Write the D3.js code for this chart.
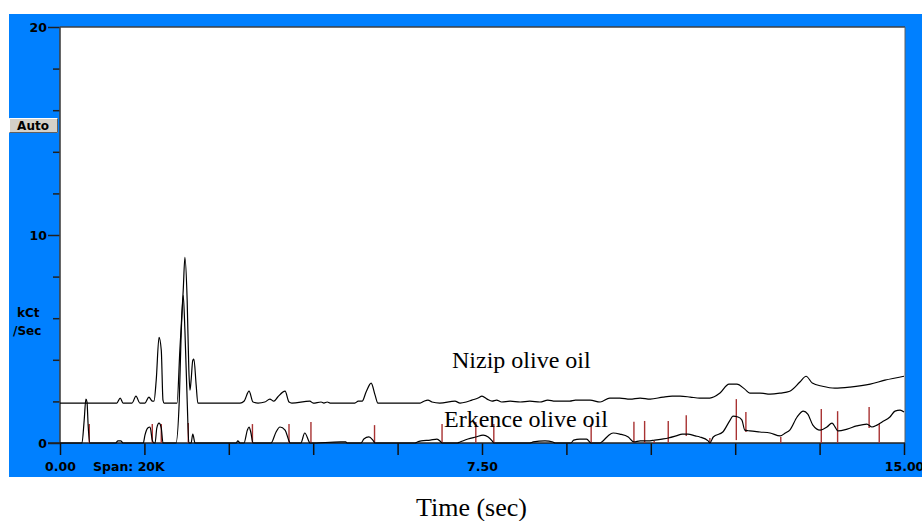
<!DOCTYPE html>
<html>
<head>
<meta charset="utf-8">
<script src="https://cdn.jsdelivr.net/npm/d3@7"></script>
<style>
  html, body { margin: 0; padding: 0; background: #ffffff; }
  svg { display: block; }
</style>
</head>
<body>
<svg id="chart" width="922" height="521"></svg>
<script>
// ---------------- DATA (time in sec, signal in kCt/Sec) ----------------
const nizipTime = [0,0.98,1.01,1.07,1.12,1.28,1.35,1.42,1.51,1.58,1.64,1.67,1.71,1.76,1.80,1.83,1.85,
  2.08,2.13,2.19,2.22,2.26,2.29,2.31,2.33,2.36,2.38,2.42,2.45,
  3.20,3.27,3.36,3.43,3.52,3.64,3.73,3.80,3.87,4.00,4.07,4.12,4.44,4.50,4.64,4.69,4.75,4.80,
  5.24,5.30,5.37,5.44,5.53,5.60,5.65,6.40,6.47,6.54,6.61,6.75,7.02,7.11,
  7.22,7.32,7.43,7.50,7.59,7.68,7.76,7.85,8.00,8.18,8.35,8.53,8.67,8.80,8.89,9.06,9.16,9.24,9.42,9.60,
  9.77,9.95,10.13,10.31,10.49,10.72,10.88,11.02,11.20,11.37,11.55,11.73,11.89,12.03,12.17,12.26,
  12.44,12.62,12.80,12.97,13.15,13.26,13.37,13.55,13.77,14.04,14.40,14.66,15.00];
const nizipValue = [1.92,1.92,1.92,2.16,1.92,1.92,2.25,1.92,1.92,2.21,2.01,2.01,3.02,5.08,4.46,2.06,1.92,
  1.92,4.46,7.34,8.92,6.86,3.50,2.54,3.02,3.98,4.03,2.78,1.92,
  1.92,2.01,2.49,1.97,1.92,1.97,2.11,2.01,2.21,2.49,1.97,1.92,2.01,1.92,1.97,1.92,1.97,1.92,
  1.92,2.01,2.01,2.45,2.88,2.30,1.92,1.92,2.01,2.06,1.97,1.92,2.01,1.92,
  1.97,2.06,2.16,2.25,2.11,2.01,2.06,1.97,2.01,1.97,2.01,1.97,2.06,2.01,2.01,2.01,2.06,2.06,2.06,1.97,
  2.16,2.16,2.11,2.16,2.11,2.21,2.25,2.25,2.21,2.16,2.16,2.40,2.83,2.83,2.59,2.40,
  2.40,2.35,2.40,2.49,2.93,3.21,2.88,2.73,2.64,2.69,2.83,3.02,3.21];

const erkenceTime = [0,0.39,0.43,0.46,0.48,0.50,0.53,0.99,1.03,1.08,1.12,1.48,1.51,1.56,1.60,1.64,1.67,1.69,
  1.72,1.76,1.80,1.83,2.06,2.12,2.15,2.19,2.22,2.26,2.29,2.33,2.36,2.40,3.13,3.16,3.20,3.27,3.33,3.36,3.39,3.43,
  3.75,3.84,3.91,4.00,4.07,4.09,4.28,4.35,4.42,4.44,4.99,5.08,5.10,5.35,5.40,5.49,5.56,5.60,
  6.31,6.35,6.42,6.58,6.70,6.77,6.79,7.06,7.11,7.25,7.39,7.52,7.61,7.68,7.71,8.35,8.41,8.62,8.76,8.80,
  9.08,9.13,9.24,9.36,9.44,9.60,9.65,9.74,9.83,9.95,10.10,10.20,10.31,10.45,10.57,10.70,10.81,10.95,
  11.06,11.16,11.29,11.37,11.52,11.55,11.61,11.78,11.91,11.96,12.05,12.12,12.17,12.26,12.44,12.62,
  12.80,12.89,12.97,13.10,13.21,13.29,13.38,13.51,13.63,13.72,13.83,13.99,14.16,14.34,14.43,14.52,
  14.61,14.75,14.84,14.93,15.00];
const erkenceValue = [0,0,1.10,2.11,1.97,0.86,0,0,0.10,0.10,0,0,0.38,0.72,0.77,0.14,0,0,
  0.72,0.96,0.72,0,0,2.06,4.94,7.10,5.42,2.06,0,0,0.43,0,0,0.10,0,0,0.62,0.77,0.53,0,
  0,0.53,0.77,0.62,0.10,0,0,0.48,0.10,0,0.05,0.05,0,0,0.19,0.29,0.14,0,
  0,0.05,0.10,0.14,0.19,0.05,0,0,0.05,0.19,0.29,0.38,0.29,0.10,0,0,0.05,0.10,0.05,0,
  0,0.14,0.19,0.19,0,0,0.10,0.34,0.48,0.43,0.29,0.05,0.10,0.10,0.14,0.19,0.24,0.34,
  0.43,0.43,0.34,0.29,0.10,0,0.29,0.53,1.10,1.29,1.25,1.10,0.62,0.58,0.53,0.48,
  0.34,0.48,0.62,1.25,1.53,1.39,0.86,0.62,0.77,0.96,0.58,0.67,0.82,0.91,0.77,0.86,
  1.01,1.25,1.53,1.58,1.49];

// peak markers: time, top, bottom
const markerTime   = [0.52,1.64,1.80,2.28,3.42,4.07,4.46,5.59,6.79,7.39,7.71,9.44,10.20,10.39,10.56,10.81,11.13,11.55,12.02,12.19,12.81,13.53,13.82,14.38,14.56];
const markerTop    = [0.91,0.91,0.91,0.96,0.91,0.91,1.01,0.86,0.91,1.01,0.91,0.91,1.02,1.06,0.10,1.06,1.34,0.24,2.11,1.49,0.29,1.63,1.53,1.73,0.91];
const markerBottom = [0,0,0,0,0,0,0,0,0,0,0,0,0,0,0,0,0.34,0,0.14,0.53,0,0,0,0.72,0];

const yMajorTicks = [0, 10, 20];
const yMinorTicks = [2, 4, 6, 8, 12, 14, 16, 18];
const xTicks = [0, 1.5, 3, 4.5, 6, 7.5, 9, 10.5, 12, 13.5, 15];
const xTickLabels = {0: "0.00", 7.5: "7.50", 15: "15.00"};
const seriesLabels = ["Nizip olive oil", "Erkence olive oil"];

// ---------------- DRAW ----------------
const svg = d3.select("#chart");
const W = 922, H = 521;
const plot = {left: 60, right: 904, top: 27, bottom: 443};

const x = d3.scaleLinear().domain([0, 15]).range([plot.left, plot.right]);
const y = d3.scaleLinear().domain([0, 20]).range([plot.bottom, plot.top]);

svg.append("rect").attr("width", W).attr("height", H).attr("fill", "#ffffff");
// blue instrument panel
svg.append("rect").attr("x", 9).attr("y", 14).attr("width", W - 9).attr("height", 463).attr("fill", "#0080ff");
// white plot area
svg.append("rect").attr("x", plot.left).attr("y", plot.top)
  .attr("width", 905 - plot.left).attr("height", plot.bottom - plot.top).attr("fill", "#ffffff");

const sansBold = "'DejaVu Sans', Verdana, sans-serif";

// Y axis: major
const yAxisMajor = d3.axisLeft(y).tickValues(yMajorTicks).tickSize(12).tickPadding(1)
  .tickFormat(d3.format("d"));
const gyM = svg.append("g").attr("transform", `translate(${plot.left},0)`).call(yAxisMajor);
gyM.select(".domain").remove();
gyM.selectAll("line").attr("stroke", "#202020").attr("stroke-width", 1.5);
gyM.selectAll("text").attr("font-family", sansBold).attr("font-weight", "bold")
  .attr("font-size", 12.5).attr("fill", "#000").attr("dy", "0.34em");

const yAxisMinor = d3.axisLeft(y).tickValues(yMinorTicks).tickSize(7).tickFormat("");
const gym = svg.append("g").attr("transform", `translate(${plot.left},0)`).call(yAxisMinor);
gym.select(".domain").remove();
gym.selectAll("line").attr("stroke", "#202020").attr("stroke-width", 1.5);

// X axis
const xAxis = d3.axisBottom(x).tickValues(xTicks).tickSize(12).tickPadding(7)
  .tickFormat(d => xTickLabels[d] || "");
const gx = svg.append("g").attr("transform", `translate(0,${plot.bottom})`).call(xAxis);
gx.select(".domain").remove();
gx.selectAll("line").attr("stroke", "#101010").attr("stroke-width", 1.5);
gx.selectAll("text").attr("font-family", sansBold).attr("font-weight", "bold")
  .attr("font-size", 12.5).attr("fill", "#000");

// frame lines
svg.append("line").attr("x1", plot.left).attr("x2", plot.left).attr("y1", plot.top).attr("y2", plot.bottom)
  .attr("stroke", "#404040").attr("stroke-width", 1.6);
svg.append("line").attr("x1", plot.left).attr("x2", 905).attr("y1", plot.top).attr("y2", plot.top)
  .attr("stroke", "#404040").attr("stroke-width", 1.4);
svg.append("line").attr("x1", 905).attr("x2", 905).attr("y1", plot.top).attr("y2", plot.bottom)
  .attr("stroke", "#606060").attr("stroke-width", 1);
svg.append("line").attr("x1", 48).attr("x2", 905).attr("y1", plot.bottom).attr("y2", plot.bottom)
  .attr("stroke", "#202020").attr("stroke-width", 1.4);

// traces
const line = d3.line().x(d => x(d[0])).y(d => y(d[1])).curve(d3.curveMonotoneX);
const nizip = nizipTime.map((t, i) => [t, nizipValue[i]]);
const erkence = erkenceTime.map((t, i) => [t, erkenceValue[i]]);

// peak markers (behind traces)
svg.append("g").selectAll("line").data(markerTime).join("line")
  .attr("x1", d => x(d)).attr("x2", d => x(d))
  .attr("y1", (d, i) => y(markerTop[i])).attr("y2", (d, i) => y(markerBottom[i]))
  .attr("stroke", "#a83232").attr("stroke-width", 1.4);

svg.append("path").datum(erkence).attr("d", line)
  .attr("fill", "none").attr("stroke", "#000").attr("stroke-width", 1.2);
svg.append("path").datum(nizip).attr("d", line)
  .attr("fill", "none").attr("stroke", "#000").attr("stroke-width", 1.2);

// series labels
const serif = "'Liberation Serif', 'Times New Roman', serif";
svg.append("text").attr("x", 452).attr("y", 368).attr("font-family", serif).attr("font-size", 24)
  .attr("fill", "#000").text(seriesLabels[0]);
svg.append("text").attr("x", 444).attr("y", 427).attr("font-family", serif).attr("font-size", 24)
  .attr("fill", "#000").text(seriesLabels[1]);

// axis titles
svg.append("text").attr("x", 17).attr("y", 317).attr("font-family", sansBold).attr("font-weight", "bold")
  .attr("font-size", 12).attr("fill", "#000").text("kCt");
svg.append("text").attr("x", 13).attr("y", 335).attr("font-family", sansBold).attr("font-weight", "bold")
  .attr("font-size", 12).attr("fill", "#000").text("/Sec");
svg.append("text").attr("x", 93).attr("y", 471).attr("font-family", sansBold).attr("font-weight", "bold")
  .attr("font-size", 12.5).attr("fill", "#000").text("Span: 20K");
svg.append("text").attr("x", 471.5).attr("y", 516).attr("text-anchor", "middle")
  .attr("font-family", serif).attr("font-size", 26).attr("fill", "#000").text("Time (sec)");

// Auto button
const btn = svg.append("g");
btn.append("rect").attr("x", 9).attr("y", 118).attr("width", 49).attr("height", 15).attr("fill", "#d4d0c8");
btn.append("path").attr("d", "M9.5,132.5 L9.5,118.5 L57.5,118.5").attr("fill", "none").attr("stroke", "#ffffff");
btn.append("path").attr("d", "M9.5,132.5 L57.5,132.5 L57.5,118.5").attr("fill", "none").attr("stroke", "#606060");
btn.append("text").attr("x", 33).attr("y", 130).attr("text-anchor", "middle")
  .attr("font-family", sansBold).attr("font-weight", "bold").attr("font-size", 12)
  .attr("fill", "#000").text("Auto");
</script>
</body>
</html>
